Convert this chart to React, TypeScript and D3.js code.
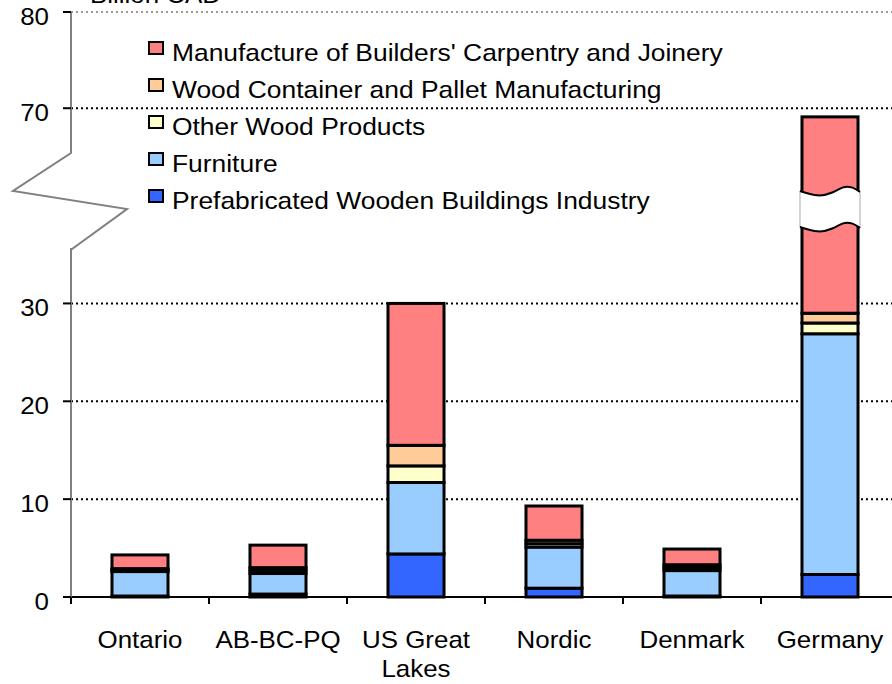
import React from "react";
import * as d3 from "d3";

const categories = ["Ontario", "AB-BC-PQ", "US Great Lakes", "Nordic", "Denmark", "Germany"];
const categoryLines = [["Ontario"], ["AB-BC-PQ"], ["US Great", "Lakes"], ["Nordic"], ["Denmark"], ["Germany"]];
const seriesNames = [
  "Prefabricated Wooden Buildings Industry",
  "Furniture",
  "Other Wood Products",
  "Wood Container and Pallet Manufacturing",
  "Manufacture of Builders' Carpentry and Joinery",
];
const prefab = [0.1, 0.3, 4.4, 0.9, 0.1, 2.3];
const furniture = [2.5, 2.1, 7.3, 4.2, 2.6, 24.6];
const otherWood = [0.15, 0.3, 1.7, 0.35, 0.3, 1.1];
const container = [0.15, 0.3, 2.1, 0.35, 0.3, 1.0];
const carpentry = [1.4, 2.3, 14.5, 3.5, 1.6, 40.1];
const seriesColors = ["#3366FF", "#99CCFF", "#FFFFCC", "#FFCC99", "#FF8080"];
const yTicks = [0, 10, 20, 30, 70, 80];
const breakLow = 37.3;
const breakHigh = 61.5;
const yLabel = "Billion CAD";

const W = 892;
const H = 684;
const FONT = "'Liberation Sans', Arial, Helvetica, sans-serif";

function T({ x, y, anchor = "start", sx = 1.08, size = 24, children }: any) {
  return (
    <text
      transform={`translate(${x},${y}) scale(${sx},1)`}
      textAnchor={anchor}
      fontFamily={FONT}
      fontSize={size}
      fill="#000"
    >
      {children}
    </text>
  );
}

export default function App() {
  const left = 71;
  const step = 138;
  const x = d3
    .scaleBand<string>()
    .domain(categories)
    .range([left, left + step * categories.length])
    .paddingInner(0.594)
    .paddingOuter(0.297);
  const y = d3
    .scaleLinear()
    .domain([0, breakLow, breakHigh, 80])
    .range([597, 232, 190, 12]);

  const all = [prefab, furniture, otherWood, container, carpentry];
  const rows = categories.map((c, i) => {
    const o: any = { cat: c };
    seriesNames.forEach((s, k) => (o[s] = all[k][i]));
    return o;
  });
  const stacked = d3.stack<any>().keys(seriesNames)(rows);

  const yMidBreak = (y(breakLow) + y(breakHigh)) / 2;
  const axisRight = W;

  const zig = d3.line()([
    [left, y(80)],
    [left, yMidBreak - 58],
    [left - 58, yMidBreak - 20],
    [left + 56, yMidBreak - 2],
    [left + 1, yMidBreak + 38],
    [left, yMidBreak + 38],
    [left, y(0)],
  ]);

  const gi = categories.length - 1;
  const gx = x(categories[gi])! - 2;
  const gw = x.bandwidth() + 4;
  const topY = y(breakHigh) + 1;
  const gap = y(breakLow) - y(breakHigh) - 6;
  const wavePts = (dy: number) => {
    const pts: [number, number][] = [
      [gx, topY + dy],
      [gx + gw * 0.3, topY + 6 + dy],
      [gx + gw * 0.55, topY + 2 + dy],
      [gx + gw * 0.72, topY - 5 + dy],
      [gx + gw * 0.88, topY - 4 + dy],
      [gx + gw, topY + 1 + dy],
    ];
    return pts;
  };
  const curve = d3.line().curve(d3.curveBasis);
  const topWave = wavePts(0);
  const botWave = wavePts(gap);
  const fillPath =
    curve(topWave)! +
    "L" +
    botWave[botWave.length - 1].join(",") +
    curve([...botWave].reverse())!.slice(1).replace(/^[^C]*/, (m) => "L" + m) +
    "Z";

  const legendY = [61, 98, 135, 172, 209];
  const legendOrder = [4, 3, 2, 1, 0];

  return (
    <div style={{ position: "fixed", left: 0, top: 0 }}>
      <svg width={W} height={H} style={{ display: "block", background: "#fff" }}>
        {yTicks
          .filter((t) => t > 0)
          .map((t) => (
            <line
              key={t}
              x1={left}
              x2={axisRight}
              y1={y(t)}
              y2={y(t)}
              stroke={t === 80 ? "#999" : "#000"}
              strokeWidth={2}
              strokeDasharray="2,3"
            />
          ))}
        {stacked.map((layer, k) => (
          <g key={k}>
            {layer.map((d, i) => (
              <rect
                key={i}
                x={x(categories[i])}
                width={x.bandwidth()}
                y={y(d[1])}
                height={y(d[0]) - y(d[1])}
                fill={seriesColors[k]}
                stroke="#000"
                strokeWidth={3}
              />
            ))}
          </g>
        ))}
        <path d={fillPath} fill="#fff" stroke="none" />
        <line x1={gx} x2={gx} y1={topWave[0][1]} y2={botWave[0][1]} stroke="#aaa" strokeWidth={1} />
        <line x1={gx + gw} x2={gx + gw} y1={topWave[5][1]} y2={botWave[5][1]} stroke="#aaa" strokeWidth={1} />
        <path d={curve(topWave)!} fill="none" stroke="#000" strokeWidth={2} />
        <path d={curve(botWave)!} fill="none" stroke="#000" strokeWidth={2} />
        <line x1={left} x2={axisRight} y1={y(0)} y2={y(0)} stroke="#000" strokeWidth={2} />
        {d3.range(categories.length + 1).map((i) => (
          <line
            key={i}
            x1={left + i * step}
            x2={left + i * step}
            y1={y(0)}
            y2={y(0) + 7}
            stroke="#000"
            strokeWidth={2}
          />
        ))}
        <path d={zig!} fill="none" stroke="#808080" strokeWidth={2} />
        {yTicks.map((t) => (
          <g key={t}>
            <line x1={left - 8} x2={left} y1={y(t)} y2={y(t)} stroke="#000" strokeWidth={2} />
            <T x={49} y={y(t) + 13} anchor="end">
              {t}
            </T>
          </g>
        ))}
        <T x={90} y={3}>{yLabel}</T>
        {categories.map((c, i) => (
          <g key={c}>
            {categoryLines[i].map((ln, j) => (
              <T key={j} x={x(c)! + x.bandwidth() / 2} y={648 + j * 29} anchor="middle">
                {ln}
              </T>
            ))}
          </g>
        ))}
        {legendOrder.map((k, r) => (
          <g key={k}>
            <rect
              x={149}
              y={legendY[r] - 19}
              width={14}
              height={12}
              fill={seriesColors[k]}
              stroke="#000"
              strokeWidth={2}
            />
            <T x={172} y={legendY[r]} sx={1.1}>
              {seriesNames[k]}
            </T>
          </g>
        ))}
      </svg>
    </div>
  );
}
